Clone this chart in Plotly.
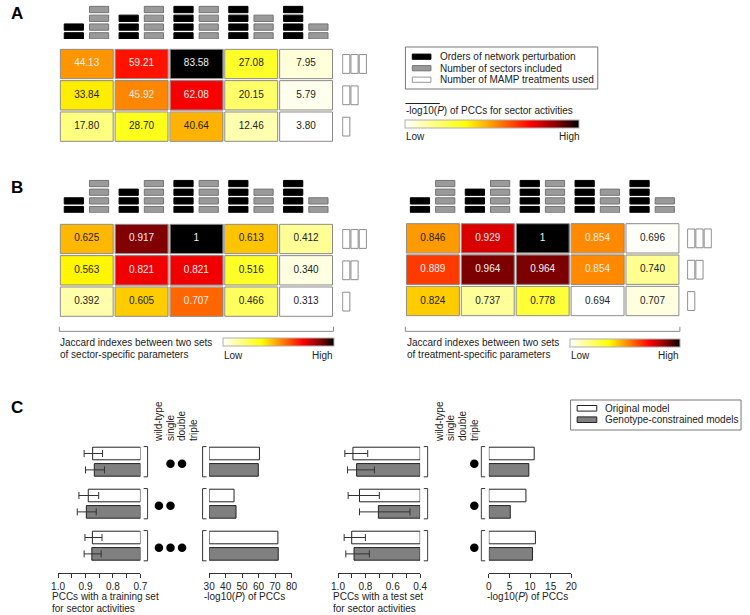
import plotly.graph_objects as go

W, H = 750, 615
def X(px): return px / W
def Y(px): return 1 - px / H

# ---------------- data ----------------
cols = [0, 1, 2, 3, 4]
rows = [0, 1, 2]
orders = [2, 3, 4, 4, 4]        # orders of network perturbation (black blocks)
sectors = [4, 4, 4, 3, 2]       # number of sectors included (gray blocks)
mamp = [3, 2, 1]                # number of MAMP treatments used (per row)

pcc_logp = [[44.13, 59.21, 83.58, 27.08, 7.95],
            [33.84, 45.92, 62.08, 20.15, 5.79],
            [17.80, 28.70, 40.64, 12.46, 3.80]]
jac_sector = [[0.625, 0.917, 1, 0.613, 0.412],
              [0.563, 0.821, 0.821, 0.516, 0.340],
              [0.392, 0.605, 0.707, 0.466, 0.313]]
jac_treat = [[0.846, 0.929, 1, 0.854, 0.696],
             [0.889, 0.964, 0.964, 0.854, 0.740],
             [0.824, 0.737, 0.778, 0.694, 0.707]]

genotypes = ['wild-type', 'single', 'double', 'triple']
groups = [0, 1, 2]
train_dots = [['single', 'double'], ['wild-type', 'single'], ['wild-type', 'single', 'double']]
test_dots = [['triple'], ['triple'], ['triple']]

train_orig = [0.874, 0.890, 0.875]
train_orig_hi = [0.905, 0.924, 0.902]
train_orig_lo = [0.838, 0.852, 0.840]
train_geno = [0.868, 0.897, 0.877]
train_geno_hi = [0.900, 0.930, 0.905]
train_geno_lo = [0.831, 0.861, 0.843]
train_logp_orig = [60.5, 45.1, 71.7]
train_logp_geno = [59.8, 46.3, 71.9]

test_orig = [0.891, 0.843, 0.900]
test_orig_hi = [0.950, 0.926, 0.955]
test_orig_lo = [0.783, 0.698, 0.800]
test_geno = [0.864, 0.705, 0.883]
test_geno_hi = [0.931, 0.843, 0.943]
test_geno_lo = [0.734, 0.474, 0.771]
test_logp_orig = [11.0, 9.0, 11.3]
test_logp_geno = [9.7, 5.2, 10.6]

train_ticks = [1.0, 0.9, 0.8, 0.7]
test_ticks = [1.0, 0.8, 0.6, 0.4]
logp_train_ticks = [30, 40, 50, 60, 70, 80]
logp_test_ticks = [0, 5, 10, 15, 20]

legend_a = ['Orders of network perturbation', 'Number of sectors included', 'Number of MAMP treatments used']
legend_c = ['Original model', 'Genotype-constrained models']

# ---------------- styling ----------------
FONT = 'Liberation Sans, Arial, sans-serif'
TXT = '#222222'
HOT = [[0, '#ffffff'], [0.35, '#ffff00'], [0.5, '#ff9900'], [0.72, '#ff0000'], [0.88, '#800000'], [1, '#000000']]
GRAY_ICON = '#9a9a9a'
GRAY_ICON_LINE = '#747474'
CELL_LINE = '#8a8a8a'
DARK = '#333333'

fig = go.Figure()
shapes = []
annotations = []
axes = {}


def ann(text, x, y, xanchor='left', size=10, color=TXT):
    annotations.append(dict(text=text, x=X(x), y=Y(y), xref='paper', yref='paper',
                            xanchor=xanchor, yanchor='middle', showarrow=False, borderpad=0,
                            font=dict(family=FONT, size=size, color=color)))


def lname(a):
    return ('xaxis' if a[0] == 'x' else 'yaxis') + a[1:]


def heat_panel(z, fmt, n, dom_x, dom_y, icon_y, mamp_x, cb, bracket=None):
    xa, ya = ('x', 'y') if n == 1 else ('x%d' % n, 'y%d' % n)
    yi, xm = 'y%d' % (n + 1), 'x%d' % (n + 1)
    zmin = min(min(r) for r in z)
    zmax = max(max(r) for r in z)
    fig.add_trace(go.Heatmap(
        z=z, x=cols, y=rows, zmin=zmin, zmax=zmax, colorscale=HOT, xgap=2, ygap=2,
        xaxis=xa, yaxis=ya, hoverinfo='skip',
        colorbar=dict(orientation='h', x=X(cb[0]), xanchor='left', y=Y(cb[2]), yanchor='top',
                      len=(cb[1] - cb[0]) / W, lenmode='fraction', thickness=cb[3] - cb[2],
                      thicknessmode='pixels', xpad=0, ypad=0, outlinewidth=1,
                      outlinecolor='#b0b0b0', showticklabels=False, ticks='')))
    for light in (True, False):
        xs, ys, ts = [], [], []
        for r in rows:
            for c in cols:
                t = (z[r][c] - zmin) / (zmax - zmin)
                if (t > 0.5) == light:
                    xs.append(c); ys.append(r); ts.append(fmt(z[r][c]))
        fig.add_trace(go.Scatter(x=xs, y=ys, text=ts, mode='text', xaxis=xa, yaxis=ya,
                                 textfont=dict(family=FONT, size=10, color='#f0f0f0' if light else TXT),
                                 hoverinfo='skip', showlegend=False))
    # cell outlines
    dx = 1.0 / ((dom_x[1] - dom_x[0]) / 5)
    dy = 1.0 / ((dom_y[1] - dom_y[0]) / 3)
    for r in rows:
        for c in cols:
            shapes.append(dict(type='rect', xref=xa, yref=ya, x0=c - 0.5 + dx, x1=c + 0.5 - dx,
                               y0=r - 0.5 + dy, y1=r + 0.5 - dy, line=dict(color=CELL_LINE, width=1),
                               fillcolor='rgba(0,0,0,0)', layer='above'))
    # icons: black = orders, gray = sectors
    for counts, color, line, off in ((orders, 'black', 'black', -0.41), (sectors, GRAY_ICON, GRAY_ICON_LINE, 0.05)):
        bx, bb = [], []
        for c in cols:
            for k in range(counts[c]):
                bx.append(c); bb.append(k)
        fig.add_trace(go.Bar(x=bx, y=[0.72] * len(bx), base=bb, width=0.35, offset=off,
                             marker=dict(color=color, line=dict(color=line, width=1)),
                             xaxis=xa, yaxis=yi, hoverinfo='skip', showlegend=False))
    # MAMP treatment rectangles
    mx, mb = [], []
    for r in rows:
        for k in range(mamp[r]):
            mx.append(k); mb.append(r - 0.3)
    fig.add_trace(go.Bar(x=mx, y=[0.6] * len(mx), base=mb, width=0.87,
                         marker=dict(color='white', line=dict(color='#8c8c8c', width=1)),
                         xaxis=xm, yaxis=ya, hoverinfo='skip', showlegend=False))

    axes[lname(xa)] = dict(domain=[X(dom_x[0]), X(dom_x[1])], range=[-0.5, 4.5], anchor=ya, visible=False)
    axes[lname(ya)] = dict(domain=[Y(dom_y[1]), Y(dom_y[0])], range=[2.5, -0.5], visible=False, anchor=xa)
    axes[lname(yi)] = dict(domain=[Y(icon_y[1]), Y(icon_y[0])], range=[0, 4], visible=False, anchor=xa)
    axes[lname(xm)] = dict(domain=[X(mamp_x[0]), X(mamp_x[1])], range=[-0.5, 2.5], visible=False, anchor=ya)

    if bracket is not None:
        # bracket under the heatmap spanning all columns
        bxa, bya = bracket
        ux = (dom_x[1] - dom_x[0]) / 5.0
        fig.add_trace(go.Scatter(x=[cols[0] - 0.5, cols[0] - 0.5, cols[-1] + 0.5, cols[-1] + 0.5],
                                 y=[1, 0, 0, 1], mode='lines', line=dict(color=CELL_LINE, width=1),
                                 xaxis=bxa, yaxis=bya, hoverinfo='skip', showlegend=False))
        axes[lname(bxa)] = dict(domain=[X(dom_x[0] - 0.05 * ux), X(dom_x[1] + 0.05 * ux)],
                                range=[-0.55, 4.55], visible=False, anchor=bya)
        axes[lname(bya)] = dict(domain=[Y(332.5), Y(326.2)], range=[-0.25, 1.1], visible=False, anchor=bxa)


heat_panel(pcc_logp, lambda v: '%.2f' % v, 1, (53.3, 332.7), (48.3, 142.3), (3.9, 39.0),
           (341.5, 366.8), (406, 583, 120, 128.3))
jfmt = lambda v: '1' if v == 1 else '%.3f' % v
heat_panel(jac_sector, jfmt, 3, (53.3, 332.7), (223.3, 317.3), (178.0, 212.7),
           (341.5, 366.8), (220, 332.7, 338.3, 346), bracket=('x17', 'y17'))
heat_panel(jac_treat, jfmt, 5, (406, 685.7), (222.7, 316.7), (178.0, 212.7),
           (693.0, 718.3), (574, 685.7, 339, 346.5), bracket=('x18', 'y18'))

# ---------------- panel C ----------------
axes['yaxis7'] = dict(domain=[Y(566.7), Y(440.7)], range=[2.5, -0.5], visible=False, anchor='x7')


def c_xaxis(name, dom, rng, tickvals, ticktext, minor=None):
    d = dict(domain=[X(dom[0]), X(dom[1])], range=rng, anchor='free', position=Y(573.3),
             showline=True, linecolor=DARK, linewidth=1, ticks='outside', ticklen=4, tickwidth=1,
             tickcolor=DARK, tickmode='array', tickvals=tickvals, ticktext=ticktext,
             tickfont=dict(family=FONT, size=10, color=TXT), showgrid=False, zeroline=False)
    if minor:
        d['minor'] = dict(tickmode='linear', tick0=rng[1], dtick=minor, ticks='outside', ticklen=4,
                          tickwidth=1, tickcolor=DARK, showgrid=False)
    axes[name] = d


c_xaxis('xaxis7', (52, 136), [1.0, 0.7], train_ticks, ['%.1f' % v for v in train_ticks], 0.05)
c_xaxis('xaxis8', (206, 290), [30, 80], logp_train_ticks, [str(v) for v in logp_train_ticks])
c_xaxis('xaxis10', (337.3, 421), [1.0, 0.4], test_ticks, ['%.1f' % v for v in test_ticks], 0.1)
c_xaxis('xaxis11', (491, 575), [0, 20], logp_test_ticks, [str(v) for v in logp_test_ticks])


def hbars(vals, base, xa, white, hi=None, lo=None):
    err = None
    if hi is not None:
        err = dict(type='data', symmetric=False, array=[h - v for h, v in zip(hi, vals)],
                   arrayminus=[v - l for v, l in zip(vals, lo)], color=DARK, thickness=1, width=3.5)
    off = -0.195 if white else 0.195
    fig.add_trace(go.Bar(orientation='h', y=[g + off for g in groups], x=[v - base for v in vals], base=base,
                         width=0.3, error_x=err, xaxis=xa, yaxis='y7', hoverinfo='skip', showlegend=False,
                         marker=dict(color='white' if white else '#808080', line=dict(color='#222222', width=1))))


hbars(train_orig, 0.7, 'x7', True, train_orig_hi, train_orig_lo)
hbars(train_geno, 0.7, 'x7', False, train_geno_hi, train_geno_lo)
hbars(train_logp_orig, 30, 'x8', True)
hbars(train_logp_geno, 30, 'x8', False)
hbars(test_orig, 0.4, 'x10', True, test_orig_hi, test_orig_lo)
hbars(test_geno, 0.4, 'x10', False, test_geno_hi, test_geno_lo)
hbars(test_logp_orig, 0, 'x11', True)
hbars(test_logp_geno, 0, 'x11', False)

# genotype dots
for xa, dom, dots in (('x9', (148.9, 196.1), train_dots), ('x12', (434.9, 482.1), test_dots)):
    xs, ys = [], []
    for g in groups:
        for name in dots[g]:
            xs.append(genotypes.index(name)); ys.append(g + 0.05)
    fig.add_trace(go.Scatter(x=xs, y=ys, mode='markers', marker=dict(size=8.5, color='black'),
                             xaxis=xa, yaxis='y7', hoverinfo='skip', showlegend=False))
    axes[lname(xa)] = dict(domain=[X(dom[0]), X(dom[1])], range=[-0.5, 3.5], anchor='free', position=Y(441),
                           side='top', tickmode='array', tickvals=list(range(len(genotypes))),
                           ticktext=genotypes, tickangle=-90, ticks='', showline=False, showgrid=False,
                           zeroline=False, tickfont=dict(family=FONT, size=10, color=TXT))

# brackets beside the bar groups
for xa, dom, right in (('x13', (138.3, 144.3), True), ('x14', (198.3, 204.3), False),
                       ('x15', (423.7, 429.7), True), ('x16', (482.3, 488.3), False)):
    bx, by = [], []
    for g in groups:
        if right:
            bx += [0, 1, 1, 0, None]
        else:
            bx += [1, 0, 0, 1, None]
        by += [g - 0.36, g - 0.36, g + 0.36, g + 0.36, None]
    fig.add_trace(go.Scatter(x=bx, y=by, mode='lines', line=dict(color=DARK, width=1),
                             xaxis=xa, yaxis='y7', hoverinfo='skip', showlegend=False))
    axes[lname(xa)] = dict(domain=[X(dom[0]), X(dom[1])], range=[-0.25, 1.25], visible=False, anchor='y7')

# ---------------- legends (decoration) ----------------
shapes.append(dict(type='rect', xref='paper', yref='paper', x0=X(406), x1=X(602), y0=Y(89), y1=Y(47),
                   line=dict(color='#777777', width=1), fillcolor='white', layer='below'))
for i, (lab, fc, lc) in enumerate(zip(legend_a, ['black', GRAY_ICON, 'white'], ['black', GRAY_ICON_LINE, '#999999'])):
    yc = 56.7 + 11.5 * i
    shapes.append(dict(type='rect', xref='paper', yref='paper', x0=X(413), x1=X(432), y0=Y(yc + 2.6),
                       y1=Y(yc - 2.6), line=dict(color=lc, width=1), fillcolor=fc))
    ann(lab, 440, yc)

shapes.append(dict(type='rect', xref='paper', yref='paper', x0=X(574.3), x1=X(748), y0=Y(430), y1=Y(400),
                   line=dict(color='#777777', width=1), fillcolor='white', layer='below'))
for i, (lab, fc) in enumerate(zip(legend_c, ['white', '#808080'])):
    yc = 408.3 + 11.4 * i
    shapes.append(dict(type='rect', xref='paper', yref='paper', x0=X(581), x1=X(601), y0=Y(yc + 2.8),
                       y1=Y(yc - 2.8), line=dict(color='#222222', width=1), fillcolor=fc))
    ann(lab, 608, yc)

# ---------------- texts ----------------
ann('<b>A</b>', 3, 14, size=17, color='black')
ann('<b>B</b>', 3, 188, size=17, color='black')
ann('<b>C</b>', 3, 407.5, size=17, color='black')

ann('-log10(<i>P</i>) of PCCs for sector activities', 406, 110.5)
shapes.append(dict(type='line', xref='paper', yref='paper', x0=X(406), x1=X(441), y0=Y(103.5), y1=Y(103.5),
                   line=dict(color=TXT, width=1)))
ann('Low', 406, 136.5)
ann('High', 585, 136.5, xanchor='right')

ann('Jaccard indexes between two sets', 53.3, 342.5)
ann('of sector-specific parameters', 53.3, 354.3)
ann('Low', 220, 355.5)
ann('High', 333, 355.5, xanchor='right')

ann('Jaccard indexes between two sets', 406.3, 342.5)
ann('of treatment-specific parameters', 406.3, 354.3)
ann('Low', 574, 355.5)
ann('High', 686, 355.5, xanchor='right')

ann('PCCs with a training set', 45, 596.5)
ann('for sector activities', 45, 608.3)
ann('-log10(<i>P</i>) of PCCs', 200, 596.5)
ann('PCCs with a test set', 331, 596.5)
ann('for sector activities', 331, 608.3)
ann('-log10(<i>P</i>) of PCCs', 488.3, 596.5)

fig.update_layout(width=W, height=H, margin=dict(l=0, r=0, t=0, b=0), paper_bgcolor='white',
                  plot_bgcolor='rgba(0,0,0,0)', showlegend=False, barmode='overlay',
                  font=dict(family=FONT, size=10, color=TXT), shapes=shapes, annotations=annotations,
                  **axes)

fig.write_html('out.html', config={'displayModeBar': False},
               post_script="document.body.style.margin='0';document.body.style.padding='0';")
